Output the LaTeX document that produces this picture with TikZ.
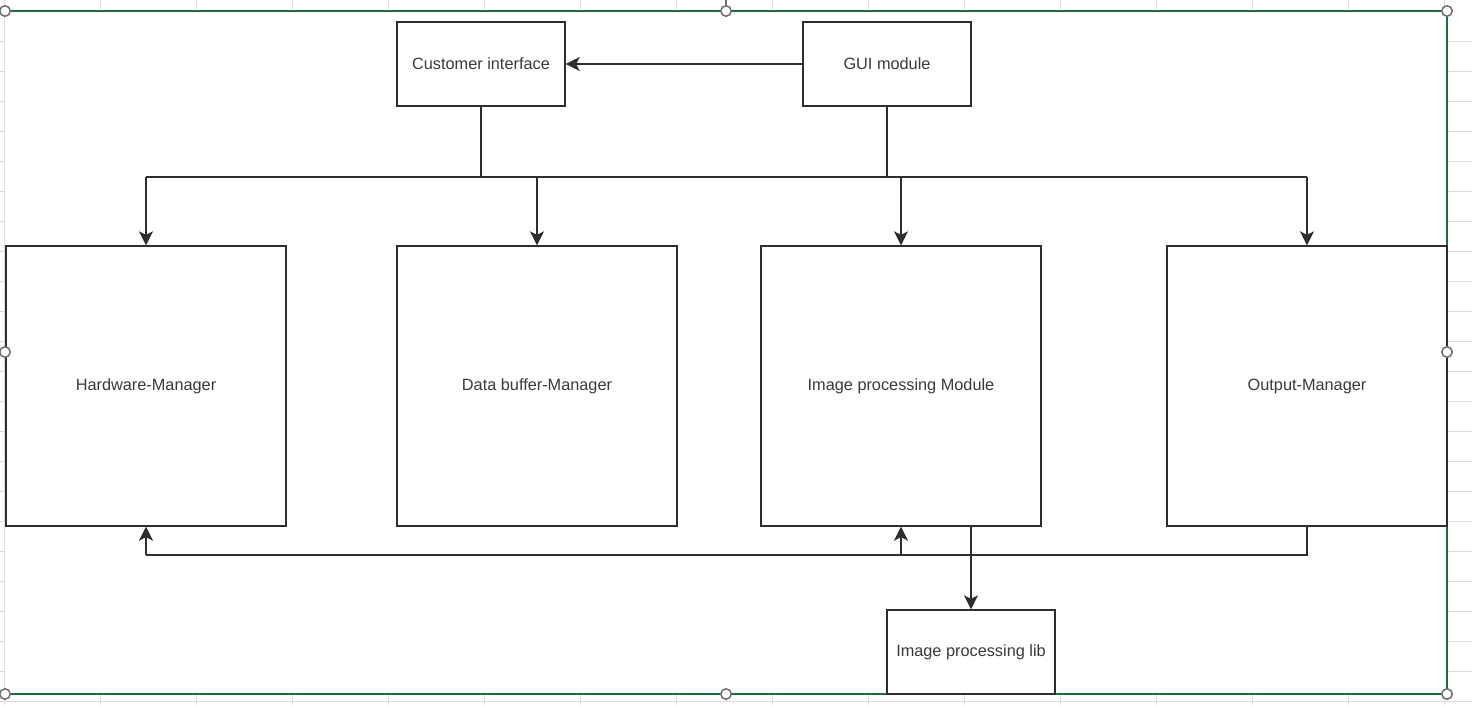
\documentclass[tikz,border=0pt]{standalone}
\usepackage{fontspec}
\setmainfont{Liberation Sans}
\usetikzlibrary{arrows.meta}
\definecolor{lineC}{HTML}{2E2E2E}
\definecolor{textC}{HTML}{3A3A3A}
\definecolor{gridC}{HTML}{DADADA}
\definecolor{frameC}{HTML}{1E6B40}
\definecolor{handleC}{HTML}{6E6E6E}
\tikzset{
  box/.style={draw=lineC, line width=1.4pt, fill=white, inner sep=0pt, text=textC,
    font=\fontsize{16.3}{19}\selectfont},
  smallbox/.style={box, minimum width=168pt, minimum height=84pt},
  bigbox/.style={box, minimum width=280pt, minimum height=280pt},
  conn/.style={draw=lineC, line width=1.4pt},
  arr/.style={conn, -{Stealth[length=14pt,width=14pt,inset=3.5pt]}},
  handle/.style={circle, draw=handleC, line width=1.5pt, fill=white, minimum size=10.5pt, inner sep=0pt},
  grid line/.style={draw=gridC, line width=1pt},
}
\begin{document}
\begin{tikzpicture}[x=1pt,y=-1pt]
\useasboundingbox (0,0) rectangle (1472,705);
% spreadsheet grid
\foreach \gx in {100,196,...,1444} {\draw[grid line] (\gx,0) -- (\gx,705);}
\foreach \gy in {41,71,...,701} {\draw[grid line] (0,\gy) -- (1472,\gy);}
% selection frame
\fill[white] (5,11) rectangle (1447,694);
\draw[grid line] (4,0) -- (4,705);
\draw[frameC, line width=1.4pt] (5,11) -- (1447,11) -- (1447,694) -- (5,694);
% nodes
\node[smallbox] (ci) at (481,64) {Customer interface};
\node[smallbox] (gui) at (887,64) {GUI module};
\node[bigbox] (hw) at (146,386) {Hardware-Manager};
\node[bigbox] (db) at (537,386) {Data buffer-Manager};
\node[bigbox] (ip) at (901,386) {Image processing Module};
\node[bigbox] (out) at (1307,386) {Output-Manager};
\node[smallbox] (lib) at (971,652) {Image processing lib};
\coordinate (tb) at (0,177);
\coordinate (bb) at (0,555);
% top connectors
\draw[arr] (gui.west) -- (ci.east);
\draw[conn] (ci.south) -- (ci.south |- tb);
\draw[conn] (gui.south) -- (gui.south |- tb);
\draw[conn] (hw.north |- tb) -- (out.north |- tb);
\draw[arr] (hw.north |- tb) -- (hw.north);
\draw[arr] (db.north |- tb) -- (db.north);
\draw[arr] (ip.north |- tb) -- (ip.north);
\draw[arr] (out.north |- tb) -- (out.north);
% bottom connectors
\draw[conn] (out.south) -- (out.south |- bb) -- (hw.south |- bb);
\draw[arr] (hw.south |- bb) -- (hw.south);
\draw[arr] (ip.south |- bb) -- (ip.south);
\draw[arr] (lib.north |- ip.south) -- (lib.north);
% selection handles
\draw[handleC, line width=1.5pt] (726,0) -- (726,6);
\foreach \p/\n in {{(5,11)}/h1,{(726,11)}/h2,{(1447,11)}/h3,{(5,352)}/h4,{(1447,352)}/h5,{(5,694)}/h6,{(726,694)}/h7,{(1447,694)}/h8}
  {\node[handle] (\n) at \p {};}
\end{tikzpicture}
\end{document}
